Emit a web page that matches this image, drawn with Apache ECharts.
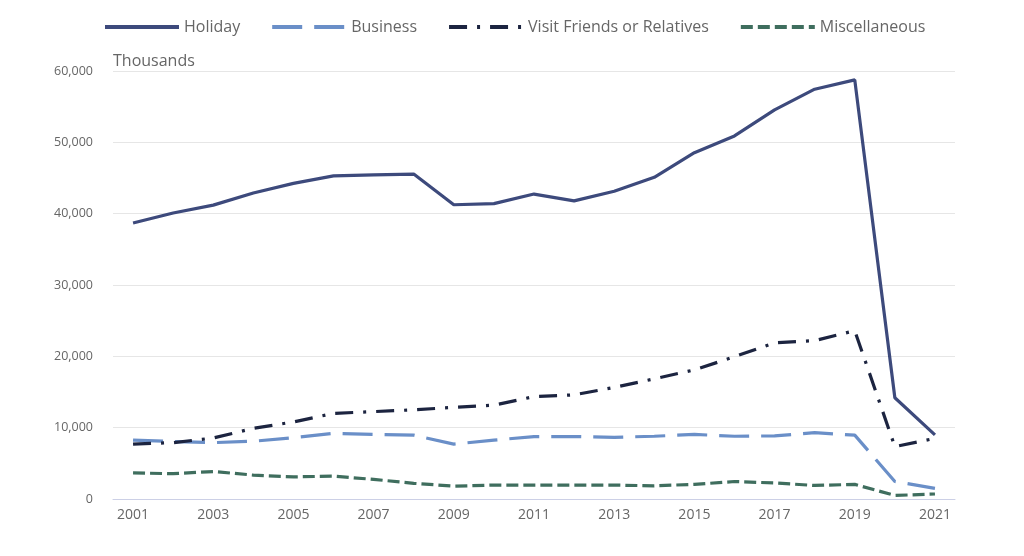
<!DOCTYPE html>
<html lang="en">
<head>
    <meta charset="UTF-8">
    <title>Visits by purpose</title>
    <style>
        html, body { margin: 0; padding: 0; background: #fff; }
    </style>
</head>
<body>
    <div id="main" style="width: 1024px;height:556px;"></div>
    <script src="https://cdn.jsdelivr.net/npm/echarts@6/dist/echarts.min.js"></script>
    <script>

var years = ['2001','2002','2003','2004','2005','2006','2007','2008','2009','2010','2011',
             '2012','2013','2014','2015','2016','2017','2018','2019','2020','2021'];
// thousands of visits
var holiday  = [38700,40100,41200,42900,44250,45300,45450,45550,41250,41400,42750,
                41800,43150,45100,48550,50900,54550,57450,58750,14200,9000];
var business = [8250,8050,7900,8100,8600,9200,9050,8950,7700,8250,8750,
                8750,8650,8800,9050,8800,8850,9300,8950,2450,1500];
var vfr      = [7700,7900,8550,9900,10800,12000,12250,12500,12850,13150,14350,
                14600,15650,16850,18100,19950,21900,22200,23600,7350,8500];
var misc     = [3650,3550,3850,3350,3100,3200,2750,2200,1800,1950,1950,
                1950,1950,1850,2050,2450,2250,1900,2050,500,700];

var font = '"Open Sans", "Noto Sans", sans-serif';

function line(name, data, color, dash) {
    return {
        name: name,
        type: 'line',
        data: data,
        symbol: 'none',
        lineStyle: { color: color, width: 3.2, type: dash },
        itemStyle: { color: color }
    };
}

var option = {
    animation: false,
    legend: {
        top: 14,
        left: 98,
        itemWidth: 74,
        itemHeight: 10,
        itemGap: 30,
        itemStyle: { opacity: 0 },
        lineStyle: { width: 4 },
        textStyle: { color: '#666', fontSize: 16, fontFamily: font }
    },
    grid: {
        left: 113,
        right: 69,
        top: 71,
        bottom: 57
    },
    xAxis: {
        type: 'category',
        data: years,
        boundaryGap: true,
        axisLine: { lineStyle: { color: '#ccd0e6' } },
        axisTick: { alignWithLabel: true, interval: 1, length: 6, lineStyle: { color: '#ccd0e6' } },
        axisLabel: { interval: 1, color: '#666', fontSize: 14, fontFamily: font, margin: 9 }
    },
    yAxis: {
        type: 'value',
        min: 0,
        max: 60000,
        interval: 10000,
        name: 'Thousands',
        nameLocation: 'end',
        nameGap: 2,
        nameTextStyle: { color: '#666', fontSize: 16, fontFamily: font, align: 'left' },
        axisLine: { show: false },
        axisTick: { show: false },
        splitLine: { lineStyle: { color: '#e6e6e6' } },
        axisLabel: {
            color: '#666', fontSize: 12.5, fontFamily: font, margin: 20,
            formatter: function (v) { return v.toLocaleString('en-US'); }
        }
    },
    series: [
        line('Holiday', holiday, '#3d4a7c', 'solid'),
        line('Business', business, '#6a8fc8', [30, 12]),
        line('Visit Friends or Relatives', vfr, '#1c2440', [18, 10, 3, 10]),
        line('Miscellaneous', misc, '#3f6e5e', [12, 5])
    ]
};

var myChart = echarts.init(document.getElementById('main'));
myChart.setOption(option);

    </script>
</body>
</html>
